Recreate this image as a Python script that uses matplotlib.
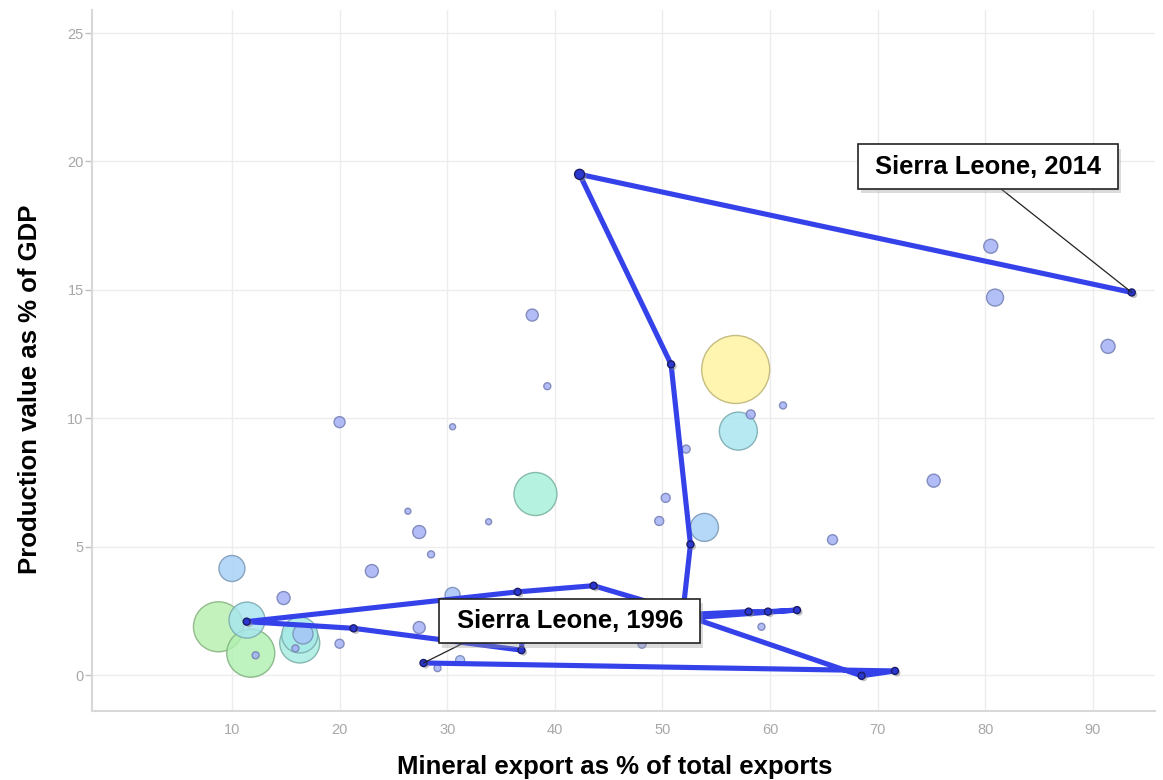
import numpy as np
import matplotlib
matplotlib.use("Agg")
import matplotlib.pyplot as plt
from matplotlib.colors import LinearSegmentedColormap, to_rgb
import matplotlib.patheffects as pe

plt.rcParams['font.family'] = ['Liberation Sans', 'DejaVu Sans']

# ---- Data: other countries (bubbles) ----
bubble_x = [56.8, 57.05, 53.9, 38.2, 10.0, 8.75, 11.75, 11.4, 16.3, 16.3, 16.6, 15.9, 12.2,
            14.8, 20.0, 20.0, 23.0, 26.35, 27.4, 28.5, 27.4, 30.5, 29.1, 31.2, 33.85, 30.5,
            37.9, 39.3, 52.2, 50.3, 49.7, 58.2, 61.2, 75.2, 65.8, 59.2, 80.5, 80.9, 91.4, 48.1]
bubble_y = [11.9, 9.5, 5.75, 7.05, 4.15, 1.88, 0.85, 2.14, 1.25, 1.56, 1.6, 1.04, 0.77,
            3.0, 1.22, 9.85, 4.05, 6.38, 5.57, 4.7, 1.85, 3.12, 0.27, 0.58, 5.97, 9.67,
            14.02, 11.25, 8.8, 6.9, 6.0, 10.15, 10.5, 7.57, 5.27, 1.88, 16.7, 14.7, 12.8, 1.2]
bubble_size = [34, 19, 14, 21.5, 13, 25, 24, 18, 20, 18, 10, 3.5, 3.5,
               6.5, 4.5, 5.5, 6.5, 3, 6.5, 3.5, 6, 7.5, 3.5, 4.5, 3, 3,
               6, 3.5, 4, 4.5, 4.5, 4.5, 3.5, 6.5, 5, 3.5, 7, 8.5, 7, 4]
bubble_color = [1.0, 0.5, 0.3, 0.65, 0.3, 0.82, 0.8, 0.5, 0.6, 0.55, 0.2, 0.0, 0.0,
                0.0, 0.0, 0.0, 0.0, 0.0, 0.0, 0.0, 0.0, 0.15, 0.0, 0.1, 0.0, 0.0,
                0.0, 0.0, 0.0, 0.0, 0.0, 0.0, 0.0, 0.0, 0.0, 0.0, 0.0, 0.05, 0.0, 0.0]

# ---- Data: Sierra Leone trail, 1996 -> 2014 ----
trail_x = [27.8, 71.6, 68.5, 51.9, 58.0, 59.8, 62.5, 37.0, 36.9, 21.3, 11.37, 36.55, 43.6,
           51.9, 52.6, 50.8, 42.3, 93.6]
trail_y = [0.47, 0.16, -0.03, 2.35, 2.47, 2.47, 2.53, 1.75, 0.97, 1.82, 2.08, 3.24, 3.48,
           2.45, 5.09, 12.1, 19.5, 14.9]
trail_size = [3.5, 3.5, 3.5, 3.5, 3.5, 3.5, 3.5, 3.5, 3.5, 3.5, 3.5, 3.5, 3.5,
              3.5, 3.5, 3.5, 5.0, 3.5]

label_start = "Sierra Leone, 1996"
label_end = "Sierra Leone, 2014"

x_ticks = [10, 20, 30, 40, 50, 60, 70, 80, 90]
y_ticks = [0, 5, 10, 15, 20, 25]

x_title = "Mineral export as % of total exports"
y_title = "Production value as % of GDP"

# ---- Figure ----
W, H = 1163, 780
fig = plt.figure(figsize=(W / 100, H / 100), dpi=100)
fig.patch.set_facecolor('white')
L, R, T, B = 92, 1155, 10, 711
ax = fig.add_axes([L / W, 1 - B / H, (R - L) / W, (B - T) / H])
ax.set_xlim(-3.0, 95.76)
ax.set_ylim(-1.40, 25.9)

ax.set_xticks(x_ticks)
ax.set_yticks(y_ticks)
ax.grid(True, color='#ececec', linewidth=1.0, zorder=0)
ax.set_axisbelow(True)
for s in ['top', 'right']:
    ax.spines[s].set_visible(False)
for s in ['left', 'bottom']:
    ax.spines[s].set_color('#d8d8d8')
    ax.spines[s].set_linewidth(1.5)
ax.tick_params(axis='x', length=0, pad=9, labelsize=10.5, labelcolor='#a8a8a8')
ax.tick_params(axis='y', length=5, width=1, color='#c0c0c0', pad=1,
               labelsize=10.5, labelcolor='#a8a8a8')

cmap = LinearSegmentedColormap.from_list('bub', [
    (0.0, '#a1aef5'), (0.25, '#a6cbf9'), (0.5, '#a6e5ee'),
    (0.65, '#a6f0da'), (0.8, '#b0f0b0'), (1.0, '#fff3a0')])

bx = np.array(bubble_x)
by = np.array(bubble_y)
br = np.array(bubble_size, dtype=float)
bc = np.array(bubble_color)
order = np.argsort(-br, kind='stable')
face = []
edge = []
for v in bc[order]:
    c = np.array(to_rgb(cmap(v)))
    face.append((*c, 0.82))
    edge.append((*(c * 0.75), 0.9))
ax.scatter(bx[order], by[order], s=(1.44 * br[order]) ** 2, c=face, edgecolors=edge,
           linewidths=1.0, zorder=3)

# Trail
ax.plot(trail_x, trail_y, color='#3542ea', linewidth=3.7, solid_joinstyle='round',
        solid_capstyle='round', zorder=5)
ts = np.array(trail_size)
ax.scatter(trail_x, trail_y, s=(1.44 * ts) ** 2, c='#2a38d0', edgecolors='#1c1c66',
           linewidths=1.0, zorder=6,
           path_effects=[pe.SimplePatchShadow(offset=(1.5, -1.5), shadow_rgbFace='#888888',
                                              alpha=0.5), pe.Normal()])

# Annotations
box = dict(boxstyle='square,pad=0.4', fc='white', ec='#222222', lw=1.2)
a1 = ax.annotate(' ' + label_end + ' ', xy=(trail_x[-1], trail_y[-1]), xytext=(80.25, 19.8),
                 textcoords='data', ha='center', va='center', fontsize=18.4,
                 fontweight='bold', color='black', bbox=box, zorder=10,
                 arrowprops=dict(arrowstyle='-', color='#222222', lw=0.9,
                                 relpos=(0.5, 0.0), shrinkA=0, shrinkB=0))
a2 = ax.annotate(' ' + label_start + ' ', xy=(trail_x[0], trail_y[0]), xytext=(41.4, 2.10),
                 textcoords='data', ha='center', va='center', fontsize=18.4,
                 fontweight='bold', color='black', bbox=box, zorder=10,
                 arrowprops=dict(arrowstyle='-', color='#222222', lw=0.9,
                                 relpos=(0.14, 0.0), shrinkA=0, shrinkB=0))
for a in (a1, a2):
    a.get_bbox_patch().set_path_effects([
        pe.SimplePatchShadow(offset=(2, -3), shadow_rgbFace='#999999', alpha=0.35),
        pe.Normal()])

fig.text(614.5 / W, 1 - 767 / H, x_title, ha='center', va='center',
         fontsize=18.5, fontweight='bold', color='black')
fig.text(30 / W, 1 - 389 / H, y_title, ha='center', va='center', rotation=90,
         fontsize=18.5, fontweight='bold', color='black')

fig.savefig('out.png', dpi=100, facecolor='white')
